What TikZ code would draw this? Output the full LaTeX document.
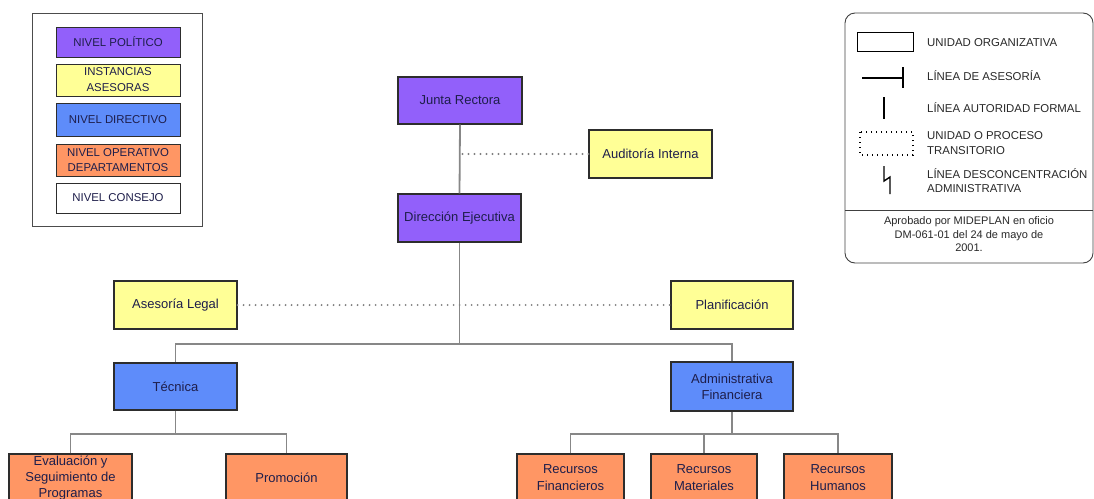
\documentclass[tikz,border=0pt]{standalone}
\usepackage{fontspec}
\setmainfont{Liberation Sans}
\definecolor{politico}{RGB}{146,96,250}
\definecolor{asesor}{RGB}{255,255,150}
\definecolor{directivo}{RGB}{94,140,250}
\definecolor{operativo}{RGB}{255,150,100}
\definecolor{boxline}{RGB}{45,45,45}
\definecolor{linkgray}{RGB}{135,135,135}
\definecolor{navytext}{RGB}{30,30,75}
\definecolor{legtext}{RGB}{40,40,40}
\tikzset{
  unit/.style={draw=boxline, line width=1.1pt, inner sep=0pt, align=center,
    minimum height=48pt, minimum width=123pt, text=navytext,
    font=\fontsize{13}{16.3}\selectfont},
  legbox/.style={draw=boxline, line width=0.9pt, inner sep=0pt, align=center,
    minimum width=124pt, text=navytext,
    font=\fontsize{11.4}{16}\selectfont},
  legtxt/.style={inner sep=0pt, anchor=west, align=left, text=legtext,
    font=\fontsize{11.4}{15}\selectfont},
  conn/.style={draw=linkgray, line width=1.8pt},
  advice/.style={draw=black!50, line width=2.1pt, line cap=round,
    dash pattern=on 0pt off 6pt},
  sym/.style={draw=black, line width=1.1pt},
}
\begin{document}
\begin{tikzpicture}[x=1pt, y=-1pt]
\useasboundingbox (0,0) rectangle (1094,498);

% ---- colour key (left) ----
\draw[draw=black!70, line width=0.9pt] (32,13) rectangle (202,226);
\node[legbox, fill=politico, minimum height=30pt] (kpol) at (118,42) {NIVEL POLÍTICO};
\node[legbox, fill=asesor, minimum height=32pt] (kase) at (118,80) {INSTANCIAS\\ASESORAS};
\node[legbox, fill=directivo, minimum height=33pt] (kdir) at (118,119.5) {NIVEL DIRECTIVO};
\node[legbox, fill=operativo, minimum height=32pt, font=\fontsize{11.4}{15.5}\selectfont] (kope) at (118,160) {NIVEL OPERATIVO\\DEPARTAMENTOS};
\node[legbox, fill=white, minimum height=30pt] (kcon) at (118,198) {NIVEL CONSEJO};

% ---- symbol key (right) ----
\draw[draw=black!75, line width=0.9pt, rounded corners=10pt] (845,13) rectangle (1093,263);
\draw[draw=black!75, line width=0.9pt] (845,210) -- (1093,210);
\draw[sym, line width=0.9pt] (857,32) rectangle (913,51);
\node[legtxt] (t1) at (927,43) {UNIDAD ORGANIZATIVA};
\draw[sym] (862,78) -- (903,78);
\draw[sym] (903,67) -- (903,88);
\node[legtxt] (t2) at (927,76) {LÍNEA DE ASESORÍA};
\draw[sym] (884,97) -- (884,119);
\node[legtxt] (t3) at (927,108) {LÍNEA AUTORIDAD FORMAL};
\draw[sym, line width=1.6pt, dash pattern=on 1.4pt off 3.6pt] (860,132) rectangle (913,155);
\node[legtxt] (t4) at (927,143) {UNIDAD O PROCESO\\TRANSITORIO};
\draw[sym, line width=1.4pt] (884,166) -- (884,181) -- (890,177) -- (890,194);
\node[legtxt, font=\fontsize{11.4}{14}\selectfont] (t5) at (927,181) {LÍNEA DESCONCENTRACIÓN\\ADMINISTRATIVA};
\node[inner sep=0pt, align=center, text=legtext, font=\fontsize{11}{13.5}\selectfont] (nota) at (969,234.5)
  {Aprobado por MIDEPLAN en oficio\\DM-061-01 del 24 de mayo de\\2001.};

% ---- organisation chart ----
\node[unit, fill=politico, minimum width=124pt, minimum height=47pt] (junta) at (460,100.5) {Junta Rectora};
\node[unit, fill=asesor] (aud) at (650.5,154) {Auditoría Interna};
\node[unit, fill=politico] (dir) at (459.5,218) {Dirección Ejecutiva};
\node[unit, fill=asesor] (legal) at (175.5,305) {Asesoría Legal};
\node[unit, fill=asesor, minimum width=122pt] (plan) at (732,305) {Planificación};
\node[unit, fill=directivo, minimum height=47pt] (tec) at (175.5,386.5) {Técnica};
\node[unit, fill=directivo, minimum width=122pt, minimum height=49pt] (adm) at (732,386.5) {Administrativa\\Financiera};
\node[unit, fill=operativo, font=\fontsize{13}{16.2}\selectfont] (eval) at (70.5,478) {Evaluación y\\Seguimiento de\\Programas};
\node[unit, fill=operativo, minimum width=121pt] (prom) at (286.5,478) {Promoción};
\node[unit, fill=operativo, minimum width=107pt, font=\fontsize{13}{17}\selectfont] (rfin) at (570.5,478) {Recursos\\Financieros};
\node[unit, fill=operativo, minimum width=106pt, font=\fontsize{13}{17}\selectfont] (rmat) at (704,478) {Recursos\\Materiales};
\node[unit, fill=operativo, minimum width=108pt, font=\fontsize{13}{17}\selectfont] (rhum) at (838,478) {Recursos\\Humanos};

\coordinate (bar1) at (459.5,344);
\coordinate (bar2) at (175.5,434);
\coordinate (bar3) at (732,434);

% formal authority lines
\draw[conn] (junta.south) -- (dir.north);
\draw[conn] (dir.south) -- (bar1);
\draw[conn] (tec.north) |- (bar1) -| (adm.north);
\draw[conn] (tec.south) -- (bar2);
\draw[conn] (eval.north) |- (bar2) -| (prom.north);
\draw[conn] (adm.south) -- (bar3);
\draw[conn] (rfin.north) |- (bar3) -| (rhum.north);
\draw[conn] (rmat.north) -- (rmat.north |- bar3);

% advisory lines
\draw[advice] (aud.west) -- (aud.west -| junta.south);
\draw[advice] (legal.east) -- (plan.west);
\end{tikzpicture}
\end{document}
